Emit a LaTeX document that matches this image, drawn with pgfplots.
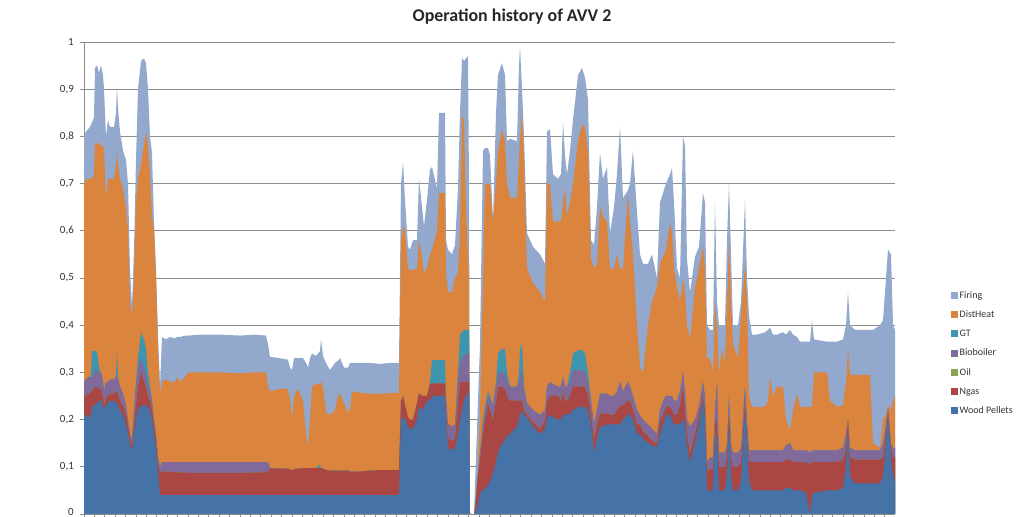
\documentclass[border=0pt]{standalone}
\usepackage{fontspec}
\setmainfont{Carlito}
\usepackage{pgfplots}
\usepackage{pgfplotstable}
\pgfplotsset{compat=1.18}
\definecolor{cWood}{HTML}{4572A7}
\definecolor{cNgas}{HTML}{AA4643}
\definecolor{cOil}{HTML}{89A54E}
\definecolor{cBio}{HTML}{80699B}
\definecolor{cGT}{HTML}{3D96AE}
\definecolor{cDist}{HTML}{DB843D}
\definecolor{cFire}{HTML}{92A8CD}
\definecolor{gridc}{HTML}{8C8C8C}
% cumulative tops of each layer: W=Wood Pellets, N=+Ngas(+Oil), B=+Bioboiler, G=+GT, D=+DistHeat, F=+Firing
\pgfplotstableread{
x W N B G D F
84 0.21 0.25 0.28 0.28 0.70 0.80
86 0.21 0.25 0.285 0.285 0.71 0.81
88 0.205 0.255 0.29 0.29 0.71 0.815
90 0.205 0.255 0.29 0.29 0.71 0.82
91 0.21 0.26 0.29 0.30 0.71 0.825
92 0.23 0.26 0.29 0.345 0.71 0.83
94 0.23 0.265 0.30 0.345 0.72 0.84
95 0.23 0.27 0.305 0.345 0.785 0.945
97 0.235 0.27 0.305 0.345 0.785 0.95
99 0.24 0.265 0.30 0.31 0.785 0.935
101 0.24 0.265 0.30 0.30 0.78 0.95
103 0.23 0.25 0.28 0.28 0.78 0.93
104 0.22 0.23 0.26 0.26 0.77 0.90
106 0.23 0.245 0.28 0.28 0.67 0.80
108 0.235 0.25 0.28 0.28 0.71 0.835
110 0.24 0.255 0.285 0.285 0.71 0.82
114 0.24 0.255 0.285 0.285 0.71 0.82
116 0.235 0.26 0.29 0.29 0.74 0.85
117 0.235 0.26 0.29 0.345 0.765 0.905
118 0.23 0.255 0.285 0.29 0.74 0.86
120 0.22 0.24 0.27 0.27 0.71 0.81
123 0.21 0.23 0.255 0.255 0.69 0.77
126 0.19 0.21 0.23 0.23 0.65 0.75
128 0.17 0.19 0.20 0.20 0.60 0.70
130 0.145 0.16 0.17 0.17 0.45 0.52
132 0.135 0.145 0.16 0.16 0.42 0.44
134 0.17 0.19 0.22 0.22 0.50 0.56
136 0.20 0.23 0.27 0.28 0.66 0.75
138 0.22 0.27 0.31 0.33 0.71 0.90
141 0.23 0.30 0.33 0.385 0.74 0.96
144 0.23 0.28 0.31 0.37 0.78 0.965
146 0.23 0.27 0.30 0.35 0.81 0.955
148 0.225 0.25 0.27 0.30 0.78 0.90
150 0.22 0.24 0.26 0.27 0.72 0.80
152 0.20 0.22 0.24 0.24 0.63 0.765
154 0.17 0.19 0.20 0.20 0.60 0.62
156 0.14 0.16 0.17 0.17 0.50 0.52
158 0.09 0.11 0.12 0.12 0.35 0.38
160 0.04 0.09 0.10 0.10 0.256 0.27
162 0.04 0.09 0.11 0.11 0.28 0.375
166 0.04 0.09 0.11 0.11 0.285 0.37
170 0.04 0.09 0.11 0.11 0.28 0.375
175 0.04 0.088 0.11 0.11 0.28 0.372
177 0.04 0.088 0.11 0.11 0.29 0.375
180 0.04 0.088 0.11 0.11 0.28 0.375
185 0.04 0.088 0.11 0.11 0.29 0.378
188 0.04 0.087 0.11 0.11 0.30 0.378
200 0.04 0.087 0.11 0.11 0.30 0.38
220 0.04 0.087 0.11 0.11 0.30 0.38
240 0.04 0.087 0.11 0.11 0.298 0.378
255 0.04 0.088 0.11 0.11 0.30 0.38
266 0.04 0.088 0.11 0.11 0.30 0.378
268 0.04 0.09 0.11 0.11 0.27 0.36
270 0.04 0.097 0.097 0.097 0.26 0.333
280 0.04 0.096 0.096 0.096 0.265 0.33
288 0.04 0.096 0.096 0.096 0.265 0.327
290 0.04 0.094 0.094 0.094 0.24 0.31
292 0.04 0.092 0.092 0.092 0.205 0.305
294 0.04 0.095 0.095 0.095 0.25 0.33
298 0.04 0.096 0.096 0.096 0.265 0.33
303 0.04 0.097 0.097 0.097 0.24 0.33
306 0.04 0.097 0.097 0.097 0.17 0.32
308 0.04 0.097 0.097 0.097 0.145 0.31
310 0.04 0.097 0.097 0.097 0.20 0.33
312 0.04 0.097 0.097 0.097 0.27 0.34
316 0.04 0.097 0.097 0.097 0.275 0.335
320 0.04 0.097 0.097 0.105 0.275 0.345
321 0.04 0.097 0.097 0.097 0.28 0.37
323 0.04 0.096 0.096 0.096 0.27 0.335
326 0.04 0.093 0.093 0.093 0.215 0.32
330 0.04 0.092 0.092 0.092 0.21 0.305
335 0.04 0.092 0.092 0.092 0.22 0.32
338 0.04 0.092 0.092 0.092 0.25 0.325
340 0.04 0.092 0.092 0.092 0.255 0.33
344 0.04 0.092 0.092 0.092 0.235 0.31
348 0.04 0.092 0.092 0.092 0.215 0.31
350 0.04 0.09 0.09 0.09 0.22 0.32
352 0.04 0.09 0.09 0.09 0.26 0.32
360 0.04 0.09 0.09 0.09 0.257 0.32
370 0.04 0.092 0.092 0.092 0.255 0.32
380 0.04 0.093 0.093 0.093 0.255 0.318
390 0.04 0.093 0.093 0.093 0.256 0.32
399 0.04 0.093 0.093 0.093 0.256 0.32
401 0.20 0.24 0.24 0.24 0.58 0.70
403 0.205 0.25 0.25 0.25 0.61 0.745
405 0.20 0.23 0.23 0.23 0.60 0.665
408 0.185 0.205 0.205 0.205 0.52 0.566
410 0.18 0.20 0.20 0.20 0.517 0.56
413 0.18 0.20 0.20 0.20 0.517 0.58
417 0.20 0.235 0.235 0.235 0.52 0.58
419 0.227 0.255 0.255 0.255 0.58 0.71
422 0.22 0.25 0.25 0.25 0.545 0.65
424 0.225 0.25 0.25 0.25 0.51 0.61
427 0.24 0.25 0.25 0.25 0.52 0.665
430 0.24 0.277 0.277 0.28 0.55 0.73
432 0.25 0.277 0.277 0.326 0.56 0.735
437 0.25 0.277 0.277 0.326 0.60 0.69
439 0.25 0.277 0.277 0.326 0.68 0.85
445 0.25 0.277 0.277 0.326 0.68 0.85
446 0.20 0.22 0.25 0.25 0.51 0.58
448 0.14 0.16 0.19 0.19 0.47 0.56
452 0.135 0.155 0.185 0.185 0.47 0.55
455 0.14 0.16 0.19 0.19 0.50 0.57
458 0.17 0.24 0.29 0.30 0.51 0.69
460 0.20 0.28 0.32 0.38 0.60 0.85
462 0.22 0.28 0.33 0.385 0.84 0.966
464 0.24 0.28 0.335 0.39 0.84 0.96
466 0.25 0.28 0.34 0.39 0.65 0.965
468 0.256 0.28 0.34 0.39 0.55 0.97
469 0.26 0.28 0.34 0.39 0.50 0.70
470 0 0 0 0 0 0
474 0 0 0 0 0 0
475 0 0.01 0.01 0.01 0.01 0.06
478 0.02 0.08 0.09 0.09 0.10 0.24
480 0.045 0.115 0.13 0.13 0.22 0.36
483 0.05 0.17 0.19 0.20 0.50 0.77
485 0.055 0.20 0.22 0.23 0.70 0.775
488 0.06 0.235 0.25 0.26 0.70 0.775
490 0.07 0.22 0.245 0.25 0.70 0.76
493 0.087 0.20 0.23 0.23 0.62 0.62
496 0.11 0.24 0.27 0.28 0.70 0.85
498 0.13 0.27 0.30 0.34 0.77 0.93
502 0.15 0.27 0.30 0.35 0.815 0.955
505 0.157 0.265 0.295 0.35 0.79 0.93
507 0.165 0.25 0.28 0.30 0.70 0.79
510 0.17 0.24 0.27 0.27 0.67 0.795
517 0.185 0.24 0.27 0.27 0.67 0.79
519 0.20 0.24 0.28 0.30 0.75 0.95
520 0.21 0.24 0.29 0.35 0.80 0.99
522 0.22 0.24 0.305 0.36 0.85 0.90
524 0.21 0.22 0.26 0.27 0.75 0.80
527 0.205 0.21 0.235 0.235 0.52 0.595
533 0.185 0.195 0.22 0.22 0.49 0.566
540 0.17 0.18 0.21 0.21 0.47 0.55
545 0.18 0.20 0.22 0.22 0.45 0.53
547 0.205 0.24 0.27 0.27 0.70 0.81
550 0.21 0.25 0.28 0.28 0.70 0.815
553 0.205 0.25 0.275 0.275 0.62 0.72
558 0.20 0.25 0.27 0.27 0.62 0.71
561 0.20 0.24 0.27 0.27 0.62 0.72
563 0.21 0.26 0.29 0.29 0.66 0.83
565 0.21 0.24 0.27 0.27 0.69 0.76
567 0.21 0.24 0.27 0.27 0.63 0.72
570 0.213 0.25 0.28 0.30 0.66 0.77
573 0.22 0.27 0.305 0.34 0.70 0.835
578 0.227 0.27 0.305 0.347 0.79 0.93
582 0.227 0.27 0.305 0.347 0.825 0.945
585 0.227 0.27 0.30 0.34 0.82 0.925
588 0.22 0.25 0.28 0.30 0.765 0.877
591 0.19 0.21 0.24 0.24 0.54 0.58
594 0.13 0.16 0.19 0.19 0.52 0.57
597 0.16 0.19 0.22 0.22 0.53 0.65
600 0.185 0.213 0.255 0.255 0.65 0.765
603 0.185 0.213 0.255 0.255 0.63 0.71
607 0.19 0.213 0.255 0.255 0.62 0.735
610 0.19 0.21 0.25 0.25 0.52 0.595
614 0.19 0.21 0.25 0.25 0.52 0.65
617 0.19 0.22 0.26 0.26 0.55 0.72
620 0.19 0.23 0.28 0.28 0.52 0.82
623 0.20 0.23 0.26 0.26 0.52 0.67
628 0.21 0.24 0.28 0.28 0.68 0.686
630 0.213 0.24 0.27 0.27 0.62 0.70
633 0.20 0.22 0.25 0.25 0.55 0.77
637 0.17 0.19 0.22 0.22 0.40 0.64
640 0.17 0.19 0.21 0.21 0.31 0.55
643 0.16 0.175 0.20 0.20 0.30 0.53
648 0.15 0.165 0.19 0.19 0.40 0.53
652 0.145 0.155 0.18 0.18 0.45 0.55
657 0.142 0.15 0.17 0.17 0.48 0.50
660 0.17 0.20 0.22 0.22 0.53 0.66
663 0.19 0.21 0.24 0.24 0.545 0.68
666 0.21 0.227 0.25 0.25 0.56 0.70
670 0.21 0.227 0.25 0.25 0.615 0.72
672 0.20 0.22 0.25 0.25 0.60 0.733
674 0.19 0.21 0.24 0.24 0.52 0.66
677 0.19 0.21 0.24 0.24 0.48 0.52
680 0.19 0.23 0.26 0.26 0.45 0.50
683 0.20 0.27 0.30 0.30 0.50 0.80
685 0.19 0.22 0.26 0.26 0.47 0.78
687 0.142 0.17 0.20 0.20 0.40 0.54
690 0.11 0.13 0.185 0.185 0.37 0.47
695 0.15 0.17 0.20 0.20 0.48 0.545
699 0.19 0.21 0.23 0.23 0.52 0.566
703 0.24 0.25 0.28 0.28 0.566 0.68
705 0.20 0.22 0.25 0.25 0.52 0.66
707 0.05 0.09 0.11 0.11 0.33 0.40
710 0.05 0.095 0.12 0.12 0.33 0.39
713 0.05 0.095 0.12 0.12 0.30 0.39
715 0.17 0.19 0.22 0.22 0.45 0.66
717 0.16 0.20 0.28 0.28 0.40 0.45
719 0.05 0.10 0.13 0.13 0.30 0.40
722 0.05 0.10 0.13 0.13 0.35 0.40
725 0.05 0.10 0.13 0.13 0.32 0.40
727 0.08 0.12 0.15 0.15 0.45 0.58
729 0.20 0.22 0.25 0.25 0.58 0.70
731 0.08 0.12 0.15 0.15 0.45 0.55
733 0.05 0.10 0.13 0.13 0.36 0.40
738 0.05 0.10 0.13 0.13 0.33 0.40
741 0.07 0.11 0.14 0.14 0.42 0.45
745 0.22 0.24 0.27 0.27 0.53 0.665
747 0.15 0.17 0.20 0.20 0.45 0.50
749 0.07 0.11 0.135 0.135 0.25 0.42
752 0.05 0.11 0.135 0.135 0.227 0.38
757 0.05 0.11 0.135 0.135 0.227 0.38
765 0.05 0.11 0.135 0.135 0.227 0.385
768 0.05 0.11 0.135 0.135 0.24 0.39
770 0.05 0.11 0.135 0.135 0.29 0.395
773 0.05 0.11 0.135 0.135 0.25 0.38
777 0.05 0.11 0.135 0.135 0.27 0.38
783 0.05 0.11 0.135 0.135 0.27 0.385
786 0.055 0.115 0.145 0.145 0.20 0.38
790 0.055 0.115 0.15 0.15 0.178 0.39
793 0.05 0.11 0.135 0.135 0.22 0.38
797 0.05 0.11 0.135 0.135 0.256 0.375
800 0.05 0.11 0.135 0.135 0.227 0.365
806 0.045 0.11 0.135 0.135 0.227 0.365
810 0.0 0.105 0.13 0.13 0.227 0.365
812 0.04 0.11 0.135 0.135 0.227 0.41
814 0.045 0.11 0.135 0.135 0.30 0.37
827 0.05 0.11 0.135 0.135 0.30 0.365
830 0.05 0.11 0.135 0.135 0.24 0.365
837 0.05 0.11 0.135 0.135 0.227 0.365
843 0.055 0.115 0.14 0.14 0.23 0.37
846 0.10 0.14 0.17 0.17 0.28 0.40
848 0.18 0.20 0.20 0.20 0.347 0.47
850 0.08 0.12 0.14 0.14 0.295 0.40
855 0.065 0.115 0.135 0.135 0.295 0.39
870 0.065 0.115 0.135 0.135 0.295 0.39
873 0.065 0.115 0.135 0.135 0.15 0.39
880 0.065 0.115 0.135 0.135 0.14 0.40
883 0.08 0.12 0.15 0.15 0.20 0.41
886 0.15 0.17 0.19 0.19 0.21 0.50
888 0.21 0.22 0.225 0.225 0.23 0.56
891 0.12 0.14 0.15 0.15 0.22 0.55
893 0.08 0.12 0.14 0.14 0.24 0.40
895 0.07 0.12 0.14 0.14 0.25 0.39
}\data
\begin{document}
\begin{tikzpicture}
\useasboundingbox (-84bp,-3bp) rectangle (940bp,514bp);
\begin{axis}[
  at={(0,0)}, anchor=origin,
  scale only axis, width=811bp, height=472bp,
  xmin=84, xmax=895, ymin=0, ymax=1,
  axis lines*=left,
  axis line style={gridc, line width=0.8bp},
  xtick={84,94.4,...,896}, xticklabels={},
  ytick={0,0.1,...,1.01},
  yticklabels={\raisebox{3.5bp}{0},{0,1},{0,2},{0,3},{0,4},{0,5},{0,6},{0,7},{0,8},{0,9},1},
  tick align=outside, major tick length=4bp,
  tick style={gridc, line width=0.8bp},
  ymajorgrids, major grid style={gridc, line width=0.8bp},
  yticklabel style={font=\fontsize{11}{13}\selectfont, text=black!80, inner sep=0pt, anchor=east, xshift=-6bp},
  clip=true,
  legend cell align=left,
  legend style={at={(1.0653,0.341)}, anchor=west, draw=none, fill=none,
    font=\fontsize{10}{12}\selectfont, row sep=8bp,
    nodes={inner sep=1.5bp, text=black!80}},
  legend image code/.code={\path[#1] (0bp,-3.5bp) rectangle (7bp,3.5bp);},
]
\addplot[fill=cFire, draw=none] table[x=x, y=F] {\data} \closedcycle;
\addlegendentry{Firing}
\addplot[fill=cDist, draw=none] table[x=x, y=D] {\data} \closedcycle;
\addlegendentry{DistHeat}
\addplot[fill=cGT, draw=none] table[x=x, y=G] {\data} \closedcycle;
\addlegendentry{GT}
\addplot[fill=cBio, draw=none] table[x=x, y=B] {\data} \closedcycle;
\addlegendentry{Bioboiler}
\addplot[fill=cOil, draw=none] table[x=x, y=N] {\data} \closedcycle;
\addlegendentry{Oil}
\addplot[fill=cNgas, draw=none] table[x=x, y=N] {\data} \closedcycle;
\addlegendentry{Ngas}
\addplot[fill=cWood, draw=none] table[x=x, y=W] {\data} \closedcycle;
\addlegendentry{Wood Pellets}
\end{axis}
\node[font=\bfseries\fontsize{18}{22}\selectfont, text=black!85] at (428bp,497bp) {Operation history of AVV 2};
\end{tikzpicture}
\end{document}
